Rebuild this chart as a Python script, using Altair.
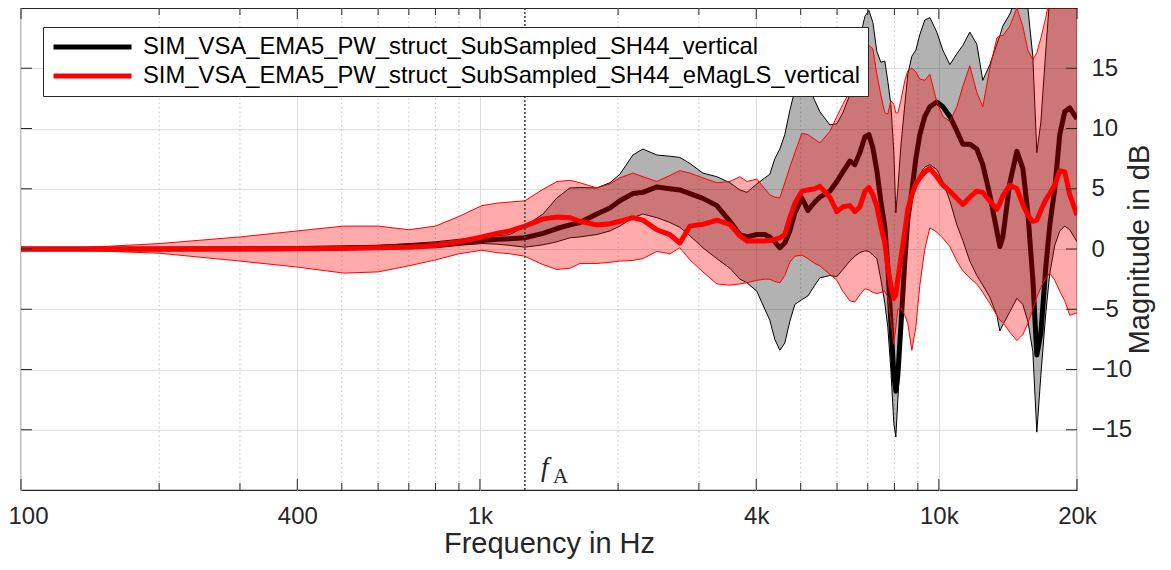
import altair as alt
import pandas as pd

# ---------------- data ----------------
FREQ = [100, 134, 200, 300, 400, 505, 600, 700, 800, 900,
        1010, 1089, 1163, 1253, 1372, 1472, 1571, 1651, 1798, 1920,
        2018, 2154, 2265, 2430, 2594, 2727, 2868, 3061, 3283, 3505,
        3685, 3817, 4012, 4176, 4282, 4391, 4503, 4617, 4735, 4856,
        5029, 5183, 5368, 5504, 5787, 5995, 6178, 6399, 6561, 6729,
        6900, 7040, 7182, 7327, 7474, 7626, 7742, 7859, 7979, 8059,
        8140, 8263, 8431, 8559, 8733, 8910, 9090, 9321, 9559, 9899,
        10202, 10568, 10944, 11279, 11680, 12097, 12467, 12913, 13378, 13581,
        13785, 14279, 14791, 15241, 15630, 16024, 16350, 16681, 17102, 17449,
        17890, 18344, 18809, 19287, 20000]

BLACK_MEAN = [0, 0, 0, 0.02, 0.05, 0.1, 0.15, 0.25, 0.35, 0.5,
              0.7, 0.8, 0.85, 0.93, 1.3, 1.7, 2.0, 2.2, 2.9, 3.4,
              4.0, 4.6, 4.7, 5.15, 5.0, 4.9, 4.6, 4.2, 3.6, 2.3,
              1.2, 1.0, 1.2, 1.2, 1.0, 0.6, 0.1, 0.5, 1.5, 3.0,
              4.25, 3.2, 3.9, 4.3, 4.8, 5.6, 6.4, 7.3, 7.0, 8.0,
              9.3, 9.5, 8.4, 6.5, 4.0, 1.8, -1.5, -6.0, -10.5, -11.8,
              -10.5, -6.5, -1.0, 2.5, 4.8, 7.5, 9.5, 11.0, 11.8, 12.2,
              11.8, 11.0, 9.8, 8.7, 8.7, 8.3, 7.0, 4.5, 1.5, 0.2,
              1.0, 5.5, 8.1, 6.7, 3.0, -2.5, -8.8, -7.0, -1.5, 2.0,
              5.0, 9.5, 11.4, 11.7, 10.8]

BLACK_UPPER = [0.05, 0.05, 0.05, 0.1, 0.15, 0.2, 0.3, 0.45, 0.6, 0.8,
               1.0, 1.1, 1.2, 1.9, 2.9, 4.25, 5.07, 5.1, 5.07, 5.5,
               6.2, 7.8, 8.3, 7.8, 7.7, 7.6, 7.1, 6.3, 6.0, 5.5,
               4.9, 4.7, 5.4, 5.9, 6.2, 7.5, 8.3, 9.5, 11.5, 13.2,
               14.2, 13.6, 12.3, 11.4, 10.3, 10.4, 11.3, 12.8, 15.0, 17.5,
               19.3, 19.8, 18.8, 16.4, 15.5, 15.6, 13.9, 12.0, 8.0, 3.0,
               5.0, 8.5, 12.0, 14.5, 16.0, 16.5, 17.8, 19.0, 19.2, 18.0,
               16.5, 15.3, 16.2, 16.9, 18.0, 17.0, 14.0, 15.3, 17.0, 17.7,
               18.5, 19.5, 21, 21, 20, 16, 8.0, 10.5, 16.5, 21,
               24, 25, 25, 25, 25]

BLACK_LOWER = [-0.05, -0.05, -0.05, -0.05, -0.05, -0.02, 0.0, 0.05, 0.1, 0.3,
               0.45, 0.4, 0.3, 0.15, 0.35, 0.6, 0.93, 1.0, 1.2, 1.5,
               1.9, 2.6, 2.9, 2.6, 2.2, 1.8, 1.1, 0.1, -0.8, -1.6,
               -2.5, -2.8, -3.5, -5.0, -5.9, -7.5, -8.4, -7.8, -6.0, -4.6,
               -4.2, -3.9, -3.0, -2.4, -2.2, -2.3, -1.7, -1.0, -0.6, -0.3,
               -0.15, -0.2, -0.5, -0.8, -2.5, -4.5, -6.5, -10.0, -14.5, -15.6,
               -12.5, -8.0, 0.6, 2.5, 4.0, 5.3, 6.2, 6.8, 7.0, 6.6,
               5.6, 4.0, 2.0, 0.7, -1.0, -2.2, -3.0, -4.0, -5.5, -6.8,
               -6.3, -5.2, -4.1, -4.6, -6.0, -8.5, -15.2, -10.5, -5.3, -2.0,
               0.3, 1.5, 1.9, 1.6, 0.6]

RED_MEAN = [0, 0, 0, 0, 0.02, 0.05, 0.1, 0.15, 0.3, 0.6,
            1.0, 1.3, 1.5, 1.9, 2.5, 2.65, 2.6, 2.3, 2.0, 2.1,
            2.3, 2.6, 2.4, 1.6, 1.2, 0.5, 1.9, 2.05, 2.4, 2.05,
            1.1, 0.66, 0.66, 0.66, 0.7, 0.8, 0.93, 1.2, 2.6, 3.8,
            4.8, 4.9, 5.0, 5.2, 4.3, 3.1, 3.5, 3.6, 3.1, 3.5,
            4.8, 5.1, 4.5, 3.5, 1.9, 0.5, -1.5, -3.0, -4.1, -3.8,
            -2.5, -0.8, 1.5, 3.3, 4.5, 5.4, 5.9, 6.4, 6.7, 6.0,
            5.3, 4.8, 4.2, 3.7, 4.3, 4.8, 4.7, 4.0, 3.3, 3.8,
            4.4, 5.3, 5.0, 3.7, 2.8, 2.3, 2.4, 3.2, 4.1, 4.6,
            5.3, 6.5, 6.4, 4.5, 2.8]

RED_UPPER = [0.05, 0.1, 0.45, 1.0, 1.5, 1.9, 1.9, 1.6, 1.9, 2.7,
             3.6, 3.8, 3.9, 4.0, 4.95, 5.6, 5.7, 5.5, 5.07, 5.4,
             5.9, 6.3, 6.0, 5.6, 6.1, 6.5, 6.3, 5.9, 5.5, 5.6,
             6.0, 5.6, 5.8, 5.0, 4.5, 4.3, 4.25, 5.5, 6.8, 8.0,
             9.6, 9.5, 9.1, 8.8, 9.75, 11.0, 12.0, 13.1, 14.5, 16.1,
             16.8, 16.9, 16.6, 14.5, 12.8, 11.3, 11.2, 12.3, 12.0, 11.3,
             11.3, 12.3, 14.0, 14.8, 15.0, 14.7, 14.1, 14.0, 14.5, 12.2,
             11.0, 10.6, 11.8, 13.5, 15.2, 13.0, 11.8, 15.0, 17.5, 17.7,
             17.7, 18.5, 20.0, 18.5, 16.5, 15.7, 16.3, 17.5, 19.2, 21,
             24, 25, 25, 25, 25]

RED_LOWER = [-0.05, -0.1, -0.35, -1.0, -1.5, -2.0, -1.9, -1.4, -0.9, -0.4,
             -0.1, -0.3, -0.4, -0.6, -1.3, -1.7, -1.6, -1.2, -1.2, -1.1,
             -1.0, -0.95, -0.8, -0.2, -0.4, 0.1, -0.9, -1.9, -2.9, -3.0,
             -2.9, -2.8, -2.6, -2.5, -2.5, -2.7, -2.8, -2.2, -1.1, -0.6,
             -0.5, -0.8, -1.2, -1.4, -2.1, -2.6, -3.5, -4.3, -4.4, -3.8,
             -3.3, -3.4, -3.6, -3.7, -3.6, -3.5, -4.0, -6.0, -7.9, -6.5,
             -5.0, -4.9, -5.5, -6.2, -8.4, -6.5, -3.0, 0.0, 1.76, 1.4,
             0.9, 0.2, -1.0, -1.8, -2.4, -2.9, -3.6, -4.5, -5.5, -5.9,
             -6.1, -6.9, -7.6, -7.1, -6.2, -5.0, -4.0, -3.2, -2.4, -2.0,
             -2.6, -3.5, -4.3, -5.5, -5.3]

LABEL_BLACK = "SIM_VSA_EMA5_PW_struct_SubSampled_SH44_vertical"
LABEL_RED = "SIM_VSA_EMA5_PW_struct_SubSampled_SH44_eMagLS_vertical"

F_A = 1253
X_TICKS = [100, 400, 1000, 4000, 10000, 20000]
X_TICK_LABELS = ["100", "400", "1k", "4k", "10k", "20k"]
X_MINOR = [200, 300, 500, 600, 700, 800, 900, 2000, 3000, 5000, 6000, 7000, 8000, 9000]
Y_TICKS = [-15, -10, -5, 0, 5, 10, 15]

# ---------------- chart ----------------
W, H = 1056, 482
FONT = "Liberation Sans"
AX = "#262626"

df = pd.DataFrame({"freq": FREQ, "bm": BLACK_MEAN, "bu": BLACK_UPPER, "bl": BLACK_LOWER,
                   "rm": RED_MEAN, "ru": RED_UPPER, "rl": RED_LOWER})

label_expr = " : ".join(f"datum.value == {v} ? '{l}'" for v, l in zip(X_TICKS, X_TICK_LABELS)) + " : ''"

xscale = alt.Scale(type="log", domain=[100, 20000], nice=False)
yscale = alt.Scale(domain=[-20, 20], nice=False, zero=False)
xaxis = alt.Axis(values=X_TICKS, labelExpr=label_expr, labelPadding=14, titlePadding=1,
                 grid=True, labelFlush=False, labelOverlap=False,
                 labelOffset={"condition": {"test": f"datum.value == {X_TICKS[0]}", "value": 7}, "value": 0})
yaxis = alt.Axis(values=Y_TICKS, orient="right", labelPadding=14, titlePadding=23,
                 grid=True, titleAngle=270, labelOverlap=False)


def X(field):
    return alt.X(field, type="quantitative", scale=xscale, axis=xaxis, title="Frequency in Hz")


def Y(field):
    return alt.Y(field, type="quantitative", scale=yscale, axis=yaxis, title="Magnitude in dB")


base = alt.Chart(df)
color_scale = alt.Scale(domain=[LABEL_BLACK, LABEL_RED], range=["#000000", "#ff0000"])
legend = alt.Legend(title=None, orient="none", legendX=22, legendY=19)

minor_df = pd.DataFrame({"f": X_MINOR})
major_df = pd.DataFrame({"f": X_TICKS})
ytick_df = pd.DataFrame({"v": Y_TICKS})

minor_grid = alt.Chart(minor_df).mark_rule(color="#c4c4c4", strokeDash=[1.5, 3], strokeWidth=1).encode(x=X("f"))

gray_band = base.mark_area(color="#000000", opacity=0.3, clip=True).encode(x=X("freq"), y=Y("bl"), y2="bu")
black_up = base.mark_line(color="#000000", strokeWidth=1, clip=True).encode(x=X("freq"), y=Y("bu"))
black_lo = base.mark_line(color="#000000", strokeWidth=1, clip=True).encode(x=X("freq"), y=Y("bl"))
black_mean = base.transform_calculate(series=f"'{LABEL_BLACK}'").mark_line(
    strokeWidth=5, clip=True, strokeJoin="round").encode(
    x=X("freq"), y=Y("bm"), color=alt.Color("series:N", scale=color_scale, legend=legend))

red_band = base.mark_area(color="#ff0000", opacity=0.33, clip=True).encode(x=X("freq"), y=Y("rl"), y2="ru")
red_up = base.mark_line(color="#ff0000", strokeWidth=1, clip=True).encode(x=X("freq"), y=Y("ru"))
red_lo = base.mark_line(color="#ff0000", strokeWidth=1, clip=True).encode(x=X("freq"), y=Y("rl"))
red_mean = base.transform_calculate(series=f"'{LABEL_RED}'").mark_line(
    strokeWidth=5, clip=True, strokeJoin="round").encode(
    x=X("freq"), y=Y("rm"), color=alt.Color("series:N", scale=color_scale, legend=legend))

fa_df = pd.DataFrame({"f": [F_A]})
fa_rule = alt.Chart(fa_df).mark_rule(color="#444444", strokeDash=[2, 2], strokeWidth=1.6).encode(x=X("f"))
fa_f = alt.Chart(fa_df).mark_text(text="f", font="Liberation Serif", fontStyle="italic", fontSize=27,
                                  align="left", baseline="alphabetic", dx=16, color="#222222").encode(
    x=X("f"), y=alt.value(H - 14))
fa_sub = alt.Chart(fa_df).mark_text(text="A", font="Liberation Serif", fontSize=21,
                                    align="left", baseline="alphabetic", dx=28, color="#222222").encode(
    x=X("f"), y=alt.value(H - 7))

tick_style = dict(color=AX, strokeWidth=1)
bot_minor = alt.Chart(minor_df).mark_rule(**tick_style).encode(x=X("f"), y=alt.value(H), y2=alt.value(H - 7))
top_minor = alt.Chart(minor_df).mark_rule(**tick_style).encode(x=X("f"), y=alt.value(0), y2=alt.value(7))
bot_major = alt.Chart(major_df).mark_rule(**tick_style).encode(x=X("f"), y=alt.value(H), y2=alt.value(H - 11))
top_major = alt.Chart(major_df).mark_rule(**tick_style).encode(x=X("f"), y=alt.value(0), y2=alt.value(11))
left_t = alt.Chart(ytick_df).mark_rule(**tick_style).encode(y=Y("v"), x=alt.value(0), x2=alt.value(11))
right_t = alt.Chart(ytick_df).mark_rule(**tick_style).encode(y=Y("v"), x=alt.value(W - 11), x2=alt.value(W))

chart = alt.layer(
    minor_grid, gray_band, black_up, black_lo, black_mean,
    red_band, red_up, red_lo, red_mean,
    fa_rule, fa_f, fa_sub,
    bot_minor, top_minor, bot_major, top_major, left_t, right_t,
).properties(
    width=W, height=H,
    autosize=alt.AutoSizeParams(type="none"),
    padding={"left": 13, "top": 0, "right": 81, "bottom": 70},
).configure_view(
    stroke=AX, strokeWidth=1.2
).configure_axis(
    labelFont=FONT, labelFontSize=24, labelColor=AX,
    titleFont=FONT, titleFontSize=29, titleFontWeight="normal", titleColor=AX,
    domain=False, ticks=False, gridColor="#dedede", gridWidth=1,
).configure_legend(
    labelFont=FONT, labelFontSize=23.8, labelColor="#000000", labelLimit=0,
    symbolType="stroke", symbolSize=6084, symbolStrokeWidth=5, clipHeight=24,
    labelOffset=9, rowPadding=5, padding=8,
    strokeColor=AX, fillColor="#ffffff", cornerRadius=0,
)

chart.save("out.html", embed_options={"renderer": "svg", "actions": False})
